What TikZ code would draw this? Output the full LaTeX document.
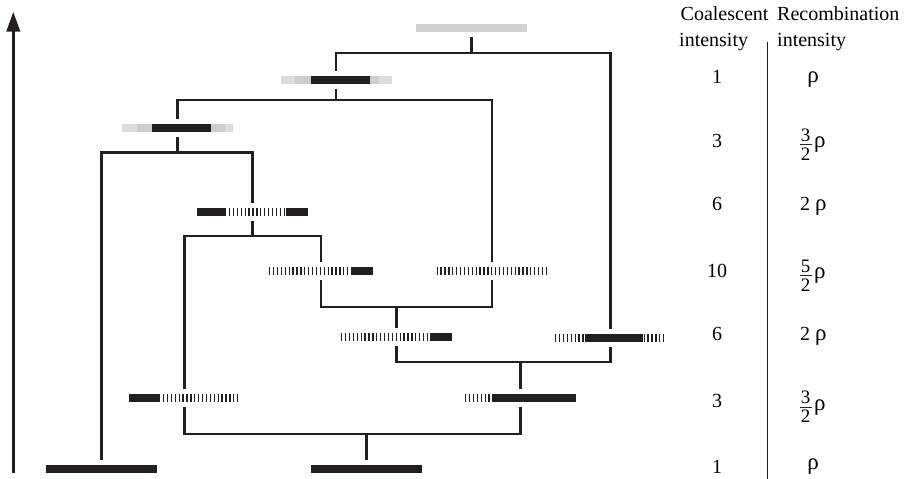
\documentclass[tikz,border=0pt]{standalone}
\usepackage{fontspec}
\setmainfont{Liberation Serif}
\usetikzlibrary{arrows.meta}
\definecolor{ink}{HTML}{231F20}
\definecolor{gtop}{HTML}{D2D2D2}
\definecolor{glight}{HTML}{DCDCDC}
\definecolor{gmid}{HTML}{CDCDCD}
\tikzset{
  barnode/.style={minimum width=111pt, minimum height=18pt, inner sep=0pt, outer sep=0pt},
  solidseg/.style={line width=8pt, ink},
  hatchseg/.style={line width=8pt, ink, dash pattern=on 1.3pt off 2.6pt},
  topseg/.style={line width=8pt, gtop},
  lightseg/.style={line width=8pt, glight},
  midseg/.style={line width=8pt, gmid},
  branch/.style={line width=2.2pt, ink},
  lbl/.style={font=\fontsize{20}{24}\selectfont, inner sep=0pt},
  fracdigit/.style={font=\fontsize{19}{20}\selectfont, inner sep=0pt, anchor=base},
  fracrule/.style={line width=0.9pt, ink},
}
\newcommand\bseg[4]{\draw[#4] ([xshift=#2pt]#1.west) -- ([xshift=#3pt]#1.west);}
\newcommand\rh{{\fontsize{23}{24}\selectfont ρ}}
% \fracrho{name}{numerator}{rule y}
\newcommand\fracrho[3]{%
  \node[fracdigit] (#1n) at (805.5,#3-3.2) {#2};
  \node[fracdigit] (#1d) at (805.5,#3+15.5) {2};
  \coordinate (#1a) at (799.5,#3);
  \coordinate (#1b) at (812,#3);
  \draw[fracrule] (#1a) -- (#1b);
  \node[lbl, anchor=base west] (#1p) at (814,#3+3) {\rh};
}
\begin{document}
\begin{tikzpicture}[x=1pt,y=-1pt]
\useasboundingbox (0,0) rectangle (905,479);
% level coordinates
\coordinate (k1) at (0,53);
\coordinate (k2) at (0,100);
\coordinate (k3) at (0,152.5);
\coordinate (k4) at (0,236);
\coordinate (k5) at (0,307);
\coordinate (k6) at (0,362);
\coordinate (k7) at (0,434);
% bar nodes
\node[barnode] (T)   at (471.5,28)  {};
\node[barnode] (B2)  at (336,79.5)  {};
\node[barnode] (B3)  at (177.5,128) {};
\node[barnode] (B4)  at (252.5,212) {};
\node[barnode, minimum width=104pt] (B5) at (321,270.5) {};
\node[barnode] (B6)  at (492,270.5) {};
\node[barnode] (B7)  at (396.5,337) {};
\node[barnode] (B8)  at (610.5,337.5) {};
\node[barnode] (B9)  at (520.5,398) {};
\node[barnode] (B10) at (184.5,397.5) {};
\node[barnode] (BL)  at (101.5,469) {};
\node[barnode] (BR)  at (366.5,469) {};
% bar contents
\bseg{T}{0}{111}{topseg}
\bseg{B2}{0}{14}{lightseg}\bseg{B2}{14}{30}{midseg}\bseg{B2}{30}{89}{solidseg}\bseg{B2}{89}{97}{midseg}\bseg{B2}{97}{111}{lightseg}
\bseg{B3}{0}{15}{lightseg}\bseg{B3}{15}{30}{midseg}\bseg{B3}{30}{89}{solidseg}\bseg{B3}{89}{103}{midseg}\bseg{B3}{103}{111}{lightseg}
\bseg{B4}{0}{28}{solidseg}\bseg{B4}{28}{89}{hatchseg}\bseg{B4}{89}{111}{solidseg}
\bseg{B5}{0}{82}{hatchseg}\bseg{B5}{82}{104}{solidseg}
\bseg{B6}{0}{111}{hatchseg}
\bseg{B7}{0}{89}{hatchseg}\bseg{B7}{89}{111}{solidseg}
\bseg{B8}{0}{30}{hatchseg}\bseg{B8}{30}{88}{solidseg}\bseg{B8}{88.5}{111}{hatchseg}
\bseg{B9}{0}{29}{hatchseg}\bseg{B9}{29}{111}{solidseg}
\bseg{B10}{0}{30}{solidseg}\bseg{B10}{30}{111}{hatchseg}
\bseg{BL}{0}{111}{solidseg}
\bseg{BR}{0}{111}{solidseg}
% branches
\draw[branch] (T.south) -- (T |- k1);
\draw[branch] (B2.north) -- (B2 |- k1) -- (B8 |- k1) -- (B8.north);
\draw[branch] (B2.south) -- (B2 |- k2);
\draw[branch] (B3.north) -- (B3 |- k2) -- (B6 |- k2) -- (B6.north);
\draw[branch] (B3.south) -- (B3 |- k3);
\draw[branch] (BL.north) -- (BL |- k3) -- (B4 |- k3) -- (B4.north);
\draw[branch] (B4.south) -- (B4 |- k4);
\draw[branch] (B10.north) -- (B10 |- k4) -- (B5 |- k4) -- (B5.north);
\draw[branch] (B5.south) -- (B5 |- k5) -- (B6 |- k5) -- (B6.south);
\draw[branch] (B7.north) -- (B7 |- k5);
\draw[branch] (B7.south) -- (B7 |- k6) -- (B8 |- k6) -- (B8.south);
\draw[branch] (B9.north) -- (B9 |- k6);
\draw[branch] (B10.south) -- (B10 |- k7) -- (B9 |- k7) -- (B9.south);
\draw[branch] (BR.north) -- (BR |- k7);
% time arrow
\coordinate (a0) at (13.3,473);
\coordinate (a1) at (13.3,11.5);
\draw[line width=3.5pt, ink, -{Triangle[length=20pt,width=13pt]}] (a0) -- (a1);
% headers
\node[lbl, anchor=base west] (h1) at (680.5,20.5) {Coalescent};
\node[lbl, anchor=base west] (h2) at (679,46.5) {intensity};
\node[lbl, anchor=base west] (h3) at (777,20.5) {Recombination};
\node[lbl, anchor=base west] (h4) at (777,46.5) {intensity};
\coordinate (d0) at (767,42);
\coordinate (d1) at (767,479);
\draw[line width=1pt, ink] (d0) -- (d1);
% coalescent column
\node[lbl, anchor=base] (c1) at (717,83)  {1};
\node[lbl, anchor=base] (c2) at (717,147) {3};
\node[lbl, anchor=base] (c3) at (717,210) {6};
\node[lbl, anchor=base] (c4) at (717,277) {10};
\node[lbl, anchor=base] (c5) at (717,340) {6};
\node[lbl, anchor=base] (c6) at (717,407) {3};
\node[lbl, anchor=base] (c7) at (717,473) {1};
% recombination column
\node[lbl, anchor=base] (r1) at (813,82) {\rh};
\fracrho{r2}{3}{144.5}
\node[lbl, anchor=base west] (r3) at (800,210) {2 \rh};
\fracrho{r4}{5}{275.5}
\node[lbl, anchor=base west] (r5) at (800,340) {2 \rh};
\fracrho{r6}{3}{407}
\node[lbl, anchor=base] (r7) at (813,469) {\rh};
\end{tikzpicture}
\end{document}
